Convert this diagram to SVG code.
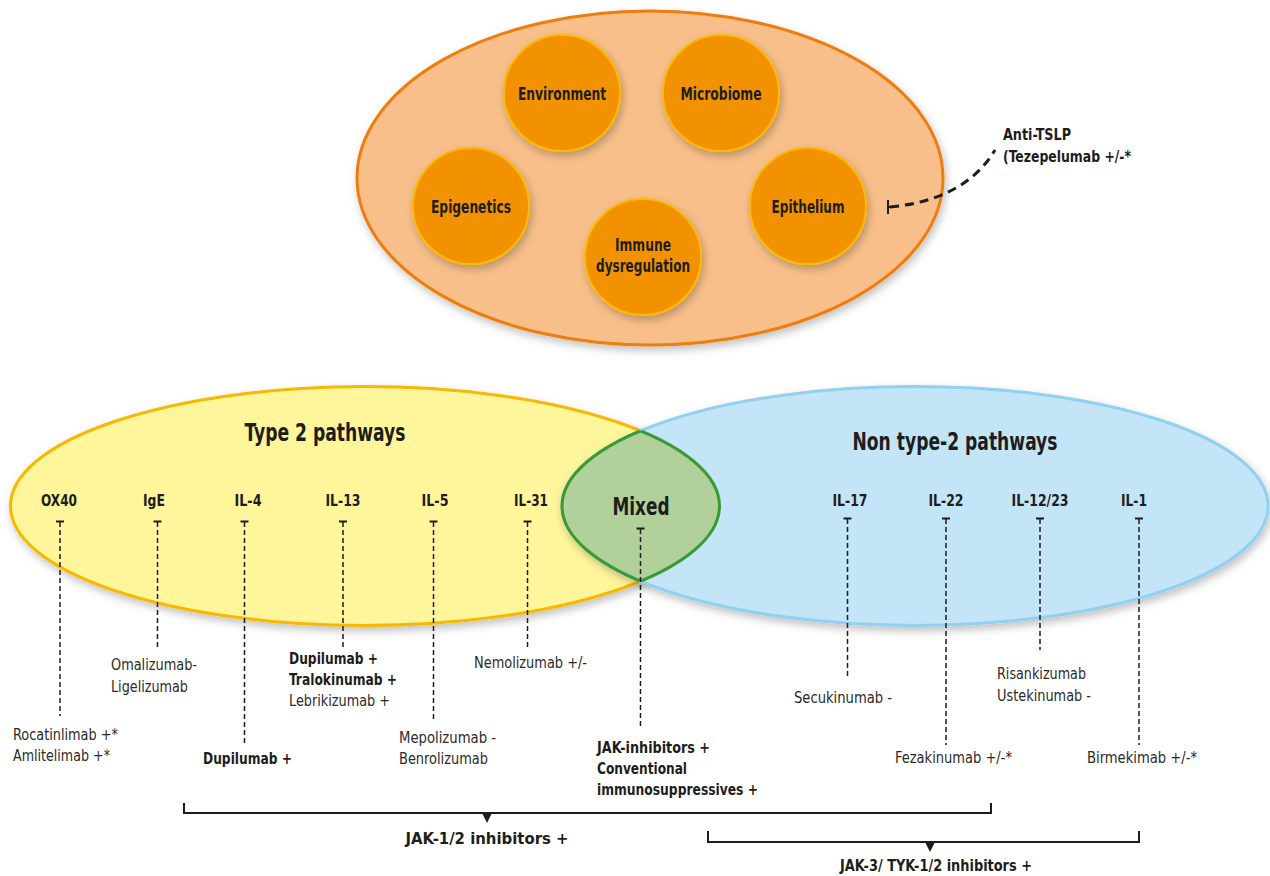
<svg xmlns="http://www.w3.org/2000/svg" width="1270" height="876" viewBox="0 0 1270 876">
<defs>
<style>
text{font-family:"DejaVu Sans Condensed","Liberation Sans Narrow","Liberation Sans",sans-serif;fill:#1d1d1b}
.b{font-weight:bold}
.lbl{font-weight:bold;font-size:16.5px;text-anchor:middle}
.ci{font-weight:bold;font-size:17px;text-anchor:middle}
.drug{font-size:16px;fill:#2a2a2a}
.drugb{font-size:16px;font-weight:bold}
.dash{stroke:#1d1d1b;stroke-width:1.5;stroke-dasharray:5 3;fill:none}
.tick{stroke:#1d1d1b;stroke-width:2;fill:none}
.circ{fill:#f39200;stroke:#fbba00;stroke-width:2;filter:url(#sh)}
.br{stroke:#1d1d1b;stroke-width:2;fill:none}
</style>
<filter id="sh" x="-20%" y="-20%" width="140%" height="150%">
<feDropShadow dx="2" dy="4" stdDeviation="4" flood-color="#000" flood-opacity="0.25"/>
</filter>
<clipPath id="clipY"><ellipse cx="365" cy="506" rx="354.5" ry="119.5"/></clipPath>
<clipPath id="clipB"><ellipse cx="915" cy="506" rx="353" ry="119.5"/></clipPath>
</defs>

<g id="factors">
<ellipse cx="650" cy="178" rx="293" ry="167" fill="#f8bf8a" stroke="#ee7d11" stroke-width="3" filter="url(#sh)"/>
</g>
<g id="environment"><circle class="circ" cx="562" cy="93" r="58"/><text class="ci" x="562" y="100" textLength="88" lengthAdjust="spacingAndGlyphs">Environment</text></g>
<g id="microbiome"><circle class="circ" cx="721" cy="93" r="58"/><text class="ci" x="721" y="100" textLength="81" lengthAdjust="spacingAndGlyphs">Microbiome</text></g>
<g id="epigenetics"><circle class="circ" cx="471" cy="206" r="58"/><text class="ci" x="471" y="213" textLength="80" lengthAdjust="spacingAndGlyphs">Epigenetics</text></g>
<g id="immune"><circle class="circ" cx="643" cy="257" r="58"/><text class="ci" x="643" y="251" textLength="56" lengthAdjust="spacingAndGlyphs">Immune</text><text class="ci" x="643" y="272" textLength="94" lengthAdjust="spacingAndGlyphs">dysregulation</text></g>
<g id="epithelium"><circle class="circ" cx="808" cy="206" r="58"/><text class="ci" x="808" y="213" textLength="73" lengthAdjust="spacingAndGlyphs">Epithelium</text></g>

<g id="anti-tslp">
<text class="b" x="1003" y="140" font-size="16" textLength="68" lengthAdjust="spacingAndGlyphs">Anti-TSLP</text>
<text class="b" x="1003" y="162" font-size="16" textLength="128" lengthAdjust="spacingAndGlyphs">(Tezepelumab +/-*</text>
</g>

<g id="type2"><ellipse cx="365" cy="506" rx="354.5" ry="119.5" fill="#fff59b" stroke="#f6b800" stroke-width="3" filter="url(#sh)"/></g>
<g id="nontype2"><ellipse cx="915" cy="506" rx="353" ry="119.5" fill="#c4e4f8" stroke="#92d0f0" stroke-width="3" filter="url(#sh)"/></g>
<g id="mixed">
<ellipse cx="915" cy="506" rx="353" ry="119.5" fill="#b1d09a" clip-path="url(#clipY)"/>
<ellipse cx="915" cy="506" rx="353" ry="119.5" fill="none" stroke="#3a9b35" stroke-width="3" clip-path="url(#clipY)"/>
<ellipse cx="365" cy="506" rx="354.5" ry="119.5" fill="none" stroke="#3a9b35" stroke-width="3" clip-path="url(#clipB)"/>
<text class="b" x="641" y="515" font-size="24" text-anchor="middle" textLength="57" lengthAdjust="spacingAndGlyphs">Mixed</text>
</g>

<g id="titles">
<text class="b" x="325" y="441" font-size="25" text-anchor="middle" textLength="161" lengthAdjust="spacingAndGlyphs">Type 2 pathways</text>
<text class="b" x="955" y="450" font-size="25" text-anchor="middle" textLength="205" lengthAdjust="spacingAndGlyphs">Non type-2 pathways</text>
</g>

<g id="cytokines">
<text class="lbl" x="59" y="506" textLength="36" lengthAdjust="spacingAndGlyphs">OX40</text>
<text class="lbl" x="154" y="506" textLength="22" lengthAdjust="spacingAndGlyphs">IgE</text>
<text class="lbl" x="248" y="506" textLength="27" lengthAdjust="spacingAndGlyphs">IL-4</text>
<text class="lbl" x="343" y="506" textLength="35" lengthAdjust="spacingAndGlyphs">IL-13</text>
<text class="lbl" x="435" y="506" textLength="27" lengthAdjust="spacingAndGlyphs">IL-5</text>
<text class="lbl" x="531" y="506" textLength="34" lengthAdjust="spacingAndGlyphs">IL-31</text>
<text class="lbl" x="850" y="506" textLength="35" lengthAdjust="spacingAndGlyphs">IL-17</text>
<text class="lbl" x="946" y="506" textLength="35" lengthAdjust="spacingAndGlyphs">IL-22</text>
<text class="lbl" x="1040" y="506" textLength="57" lengthAdjust="spacingAndGlyphs">IL-12/23</text>
<text class="lbl" x="1134" y="506" textLength="26" lengthAdjust="spacingAndGlyphs">IL-1</text>
</g>

<g id="connectors">
<path class="tick" d="M56 521.5h8M153.5 521.5h8M240.5 521.5h8M339 521.5h8M429.5 521.5h8M523.5 521.5h8M636.5 528.5h8M843.5 518.5h8M942 518.5h8M1036 518.5h8M1135 518.5h8"/>
<path class="dash" d="M60 522V716M157.5 522V647M244.5 522V745M343 522V647M433.5 522V721M527.5 522V647M640.5 529V729M847.5 519V679M946 519V745M1040 519V650M1139 519V745"/>
<path class="tick" d="M888 200V214M888 207h7"/>
<path d="M890 207 Q965 200 995 150" stroke="#1d1d1b" stroke-width="3" stroke-dasharray="9 6" fill="none"/>
<path class="br" d="M184 803V813H991V803"/>
<path d="M482 813h10l-5 10z" fill="#1d1d1b"/>
<path class="br" d="M708 831V842H1139V831"/>
<path d="M925 842h10l-5 10z" fill="#1d1d1b"/>
</g>

<g id="drugs">
<text class="drug" x="13" y="740" textLength="105" lengthAdjust="spacingAndGlyphs">Rocatinlimab +*</text>
<text class="drug" x="13" y="761" textLength="97" lengthAdjust="spacingAndGlyphs">Amlitelimab +*</text>
<text class="drug" x="111" y="670" textLength="86" lengthAdjust="spacingAndGlyphs">Omalizumab-</text>
<text class="drug" x="111" y="692" textLength="77" lengthAdjust="spacingAndGlyphs">Ligelizumab</text>
<text class="drugb" x="203" y="764" textLength="89" lengthAdjust="spacingAndGlyphs">Dupilumab +</text>
<text class="drugb" x="289" y="664" textLength="89" lengthAdjust="spacingAndGlyphs">Dupilumab +</text>
<text class="drugb" x="289" y="685" textLength="108" lengthAdjust="spacingAndGlyphs">Tralokinumab +</text>
<text class="drug" x="289" y="706" textLength="101" lengthAdjust="spacingAndGlyphs">Lebrikizumab +</text>
<text class="drug" x="474" y="668" textLength="113" lengthAdjust="spacingAndGlyphs">Nemolizumab +/-</text>
<text class="drug" x="399" y="743" textLength="97" lengthAdjust="spacingAndGlyphs">Mepolizumab -</text>
<text class="drug" x="399" y="764" textLength="89" lengthAdjust="spacingAndGlyphs">Benrolizumab</text>
<text class="drugb" x="597" y="753" textLength="113" lengthAdjust="spacingAndGlyphs">JAK-inhibitors +</text>
<text class="drugb" x="597" y="774" textLength="90" lengthAdjust="spacingAndGlyphs">Conventional</text>
<text class="drugb" x="597" y="795" textLength="161" lengthAdjust="spacingAndGlyphs">immunosuppressives +</text>
<text class="drug" x="794" y="703" textLength="98" lengthAdjust="spacingAndGlyphs">Secukinumab -</text>
<text class="drug" x="997" y="679" textLength="89" lengthAdjust="spacingAndGlyphs">Risankizumab</text>
<text class="drug" x="997" y="701" textLength="94" lengthAdjust="spacingAndGlyphs">Ustekinumab -</text>
<text class="drug" x="895" y="763" textLength="117" lengthAdjust="spacingAndGlyphs">Fezakinumab +/-*</text>
<text class="drug" x="1087" y="763" textLength="110" lengthAdjust="spacingAndGlyphs">Birmekimab +/-*</text>
<text class="drugb" x="487" y="844" text-anchor="middle" textLength="163" lengthAdjust="spacingAndGlyphs">JAK-1/2 inhibitors +</text>
<text class="drugb" x="936" y="871" text-anchor="middle" textLength="192" lengthAdjust="spacingAndGlyphs">JAK-3/ TYK-1/2 inhibitors +</text>
</g>
</svg>
